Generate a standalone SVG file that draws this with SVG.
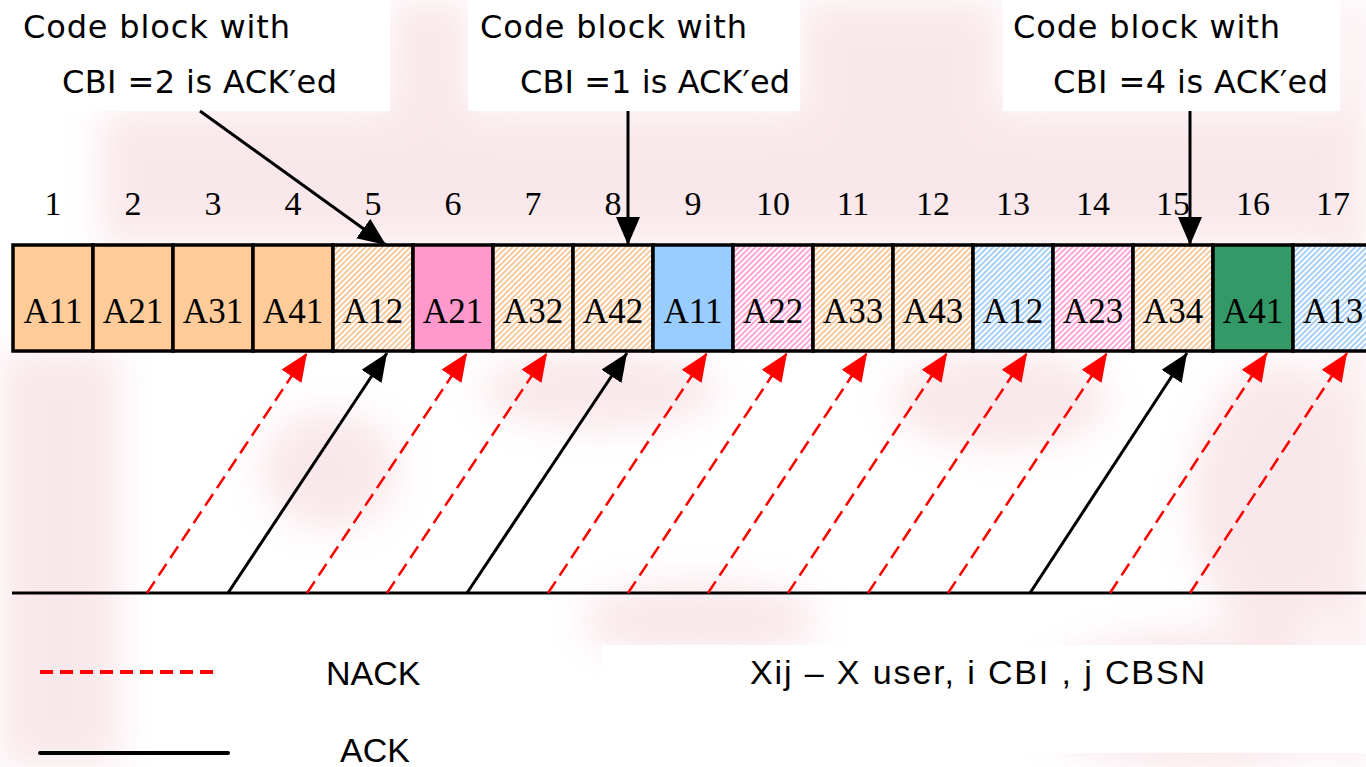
<svg xmlns="http://www.w3.org/2000/svg" width="1366" height="767" viewBox="0 0 1366 767">
<style>
.lbl{font-family:"DejaVu Sans",sans-serif;font-size:32px;fill:#000}
.num{font-family:"Liberation Serif",serif;font-size:34px;fill:#000;text-anchor:middle}
.cb{font-family:"Liberation Serif",serif;font-size:35px;fill:#000;text-anchor:middle}
.leg{font-family:"Liberation Sans",sans-serif;font-size:34px;fill:#000}
.box{stroke:#000;stroke-width:3.5}
.ack{stroke:#000;stroke-width:3;fill:none}
.nack{stroke:#f00;stroke-width:2.5;fill:none;stroke-dasharray:14 7}
.wm{fill:#f3cdd3}
</style>
<defs>
<filter id="blur" x="-20%" y="-20%" width="140%" height="140%"><feGaussianBlur stdDeviation="18"/></filter>
<pattern id="hO" width="4" height="4" patternUnits="userSpaceOnUse" patternTransform="rotate(45)"><rect width="4" height="4" fill="#fff"/><line x1="1" y1="0" x2="1" y2="4" stroke="#f7bb84" stroke-width="1.6"/></pattern>
<pattern id="hP" width="4" height="4" patternUnits="userSpaceOnUse" patternTransform="rotate(45)"><rect width="4" height="4" fill="#fff"/><line x1="1" y1="0" x2="1" y2="4" stroke="#ff8fcc" stroke-width="1.6"/></pattern>
<pattern id="hB" width="4" height="4" patternUnits="userSpaceOnUse" patternTransform="rotate(45)"><rect width="4" height="4" fill="#fff"/><line x1="1" y1="0" x2="1" y2="4" stroke="#8fc3f5" stroke-width="1.6"/></pattern>
<marker id="ahK" markerUnits="userSpaceOnUse" markerWidth="28" markerHeight="24" refX="28" refY="12" orient="auto"><path d="M0,0 L28,12 L0,24 z" fill="#000"/></marker>
<marker id="ahR" markerUnits="userSpaceOnUse" markerWidth="28" markerHeight="24" refX="28" refY="12" orient="auto"><path d="M0,0 L28,12 L0,24 z" fill="#f00"/></marker>
</defs>
<rect width="1366" height="767" fill="#fff"/>
<g id="watermark" filter="url(#blur)" opacity="0.45">
<rect class="wm" x="100" y="110" width="1266" height="135"/>
<rect class="wm" x="390" y="0" width="80" height="245"/>
<rect class="wm" x="800" y="0" width="200" height="245"/>
<rect class="wm" x="1340" y="0" width="26" height="767"/>
<rect class="wm" x="0" y="350" width="120" height="417"/>
<ellipse class="wm" cx="600" cy="390" rx="120" ry="40"/>
<ellipse class="wm" cx="1000" cy="400" rx="110" ry="50"/>
<ellipse class="wm" cx="1280" cy="500" rx="90" ry="140"/>
<ellipse class="wm" cx="1200" cy="700" rx="170" ry="70"/>
<ellipse class="wm" cx="700" cy="620" rx="120" ry="40"/>
<ellipse class="wm" cx="330" cy="470" rx="70" ry="60"/>
</g>
<g id="label1"><rect x="0" y="0" width="390" height="111" fill="#fff"/><text class="lbl" x="23" y="38" textLength="267">Code block with</text><text class="lbl" x="62" y="93" textLength="275">CBI =2 is ACK′ed</text></g>
<g id="label2"><rect x="468" y="0" width="332" height="111" fill="#fff"/><text class="lbl" x="480" y="38" textLength="267">Code block with</text><text class="lbl" x="520" y="93" textLength="270">CBI =1 is ACK′ed</text></g>
<g id="label3"><rect x="1003" y="0" width="337" height="111" fill="#fff"/><text class="lbl" x="1013" y="38" textLength="267">Code block with</text><text class="lbl" x="1053" y="93" textLength="275">CBI =4 is ACK′ed</text></g>
<g id="numbers">
<text class="num" x="53" y="215">1</text><text class="num" x="133" y="215">2</text><text class="num" x="213" y="215">3</text><text class="num" x="293" y="215">4</text><text class="num" x="373" y="215">5</text><text class="num" x="453" y="215">6</text><text class="num" x="533" y="215">7</text><text class="num" x="613" y="215">8</text><text class="num" x="693" y="215">9</text><text class="num" x="773" y="215">10</text><text class="num" x="853" y="215">11</text><text class="num" x="933" y="215">12</text><text class="num" x="1013" y="215">13</text><text class="num" x="1093" y="215">14</text><text class="num" x="1173" y="215">15</text><text class="num" x="1253" y="215">16</text><text class="num" x="1333" y="215">17</text>
</g>
<g id="blocks">
<g id="b1"><rect class="box" x="13" y="245" width="80" height="106" fill="#ffcc99"/><text class="cb" x="53" y="323">A11</text></g>
<g id="b2"><rect class="box" x="93" y="245" width="80" height="106" fill="#ffcc99"/><text class="cb" x="133" y="323">A21</text></g>
<g id="b3"><rect class="box" x="173" y="245" width="80" height="106" fill="#ffcc99"/><text class="cb" x="213" y="323">A31</text></g>
<g id="b4"><rect class="box" x="253" y="245" width="80" height="106" fill="#ffcc99"/><text class="cb" x="293" y="323">A41</text></g>
<g id="b5"><rect class="box" x="333" y="245" width="80" height="106" fill="url(#hO)"/><text class="cb" x="373" y="323">A12</text></g>
<g id="b6"><rect class="box" x="413" y="245" width="80" height="106" fill="#ff99cc"/><text class="cb" x="453" y="323">A21</text></g>
<g id="b7"><rect class="box" x="493" y="245" width="80" height="106" fill="url(#hO)"/><text class="cb" x="533" y="323">A32</text></g>
<g id="b8"><rect class="box" x="573" y="245" width="80" height="106" fill="url(#hO)"/><text class="cb" x="613" y="323">A42</text></g>
<g id="b9"><rect class="box" x="653" y="245" width="80" height="106" fill="#99ccff"/><text class="cb" x="693" y="323">A11</text></g>
<g id="b10"><rect class="box" x="733" y="245" width="80" height="106" fill="url(#hP)"/><text class="cb" x="773" y="323">A22</text></g>
<g id="b11"><rect class="box" x="813" y="245" width="80" height="106" fill="url(#hO)"/><text class="cb" x="853" y="323">A33</text></g>
<g id="b12"><rect class="box" x="893" y="245" width="80" height="106" fill="url(#hO)"/><text class="cb" x="933" y="323">A43</text></g>
<g id="b13"><rect class="box" x="973" y="245" width="80" height="106" fill="url(#hB)"/><text class="cb" x="1013" y="323">A12</text></g>
<g id="b14"><rect class="box" x="1053" y="245" width="80" height="106" fill="url(#hP)"/><text class="cb" x="1093" y="323">A23</text></g>
<g id="b15"><rect class="box" x="1133" y="245" width="80" height="106" fill="url(#hO)"/><text class="cb" x="1173" y="323">A34</text></g>
<g id="b16"><rect class="box" x="1213" y="245" width="80" height="106" fill="#339966"/><text class="cb" x="1253" y="323">A41</text></g>
<g id="b17"><rect class="box" x="1293" y="245" width="80" height="106" fill="url(#hB)"/><text class="cb" x="1333" y="323">A13</text></g>
</g>
<g id="connectors">
<line class="ack" x1="200" y1="111" x2="386" y2="245" marker-end="url(#ahK)"/>
<line class="ack" x1="628" y1="111" x2="628" y2="245" marker-end="url(#ahK)"/>
<line class="ack" x1="1190" y1="111" x2="1190" y2="245" marker-end="url(#ahK)"/>
<line x1="12" y1="593" x2="1366" y2="593" stroke="#000" stroke-width="3"/>
<line class="nack" x1="147" y1="593" x2="307" y2="353" marker-end="url(#ahR)"/>
<line class="ack" x1="228" y1="593" x2="387" y2="353" marker-end="url(#ahK)"/>
<line class="nack" x1="307" y1="593" x2="467" y2="353" marker-end="url(#ahR)"/>
<line class="nack" x1="387" y1="593" x2="547" y2="353" marker-end="url(#ahR)"/>
<line class="ack" x1="467" y1="593" x2="627" y2="353" marker-end="url(#ahK)"/>
<line class="nack" x1="548" y1="593" x2="707" y2="353" marker-end="url(#ahR)"/>
<line class="nack" x1="628" y1="593" x2="787" y2="353" marker-end="url(#ahR)"/>
<line class="nack" x1="708" y1="593" x2="867" y2="353" marker-end="url(#ahR)"/>
<line class="nack" x1="788" y1="593" x2="947" y2="353" marker-end="url(#ahR)"/>
<line class="nack" x1="868" y1="593" x2="1027" y2="353" marker-end="url(#ahR)"/>
<line class="nack" x1="948" y1="593" x2="1107" y2="353" marker-end="url(#ahR)"/>
<line class="ack" x1="1030" y1="593" x2="1187" y2="353" marker-end="url(#ahK)"/>
<line class="nack" x1="1110" y1="593" x2="1267" y2="353" marker-end="url(#ahR)"/>
<line class="nack" x1="1190" y1="593" x2="1347" y2="353" marker-end="url(#ahR)"/>
</g>
<g id="legend">
<line x1="40" y1="672" x2="220" y2="672" stroke="#f00" stroke-width="4" stroke-dasharray="13 7"/>
<text class="leg" x="326" y="685">NACK</text>
<line x1="40" y1="753" x2="228" y2="753" stroke="#000" stroke-width="4" stroke-linecap="round"/>
<text class="leg" x="340" y="762">ACK</text>
<rect x="602" y="645" width="764" height="108" fill="#fff"/>
<text class="leg" x="750" y="684" textLength="455">Xij – X user, i CBI , j CBSN</text>
</g>
</svg>
